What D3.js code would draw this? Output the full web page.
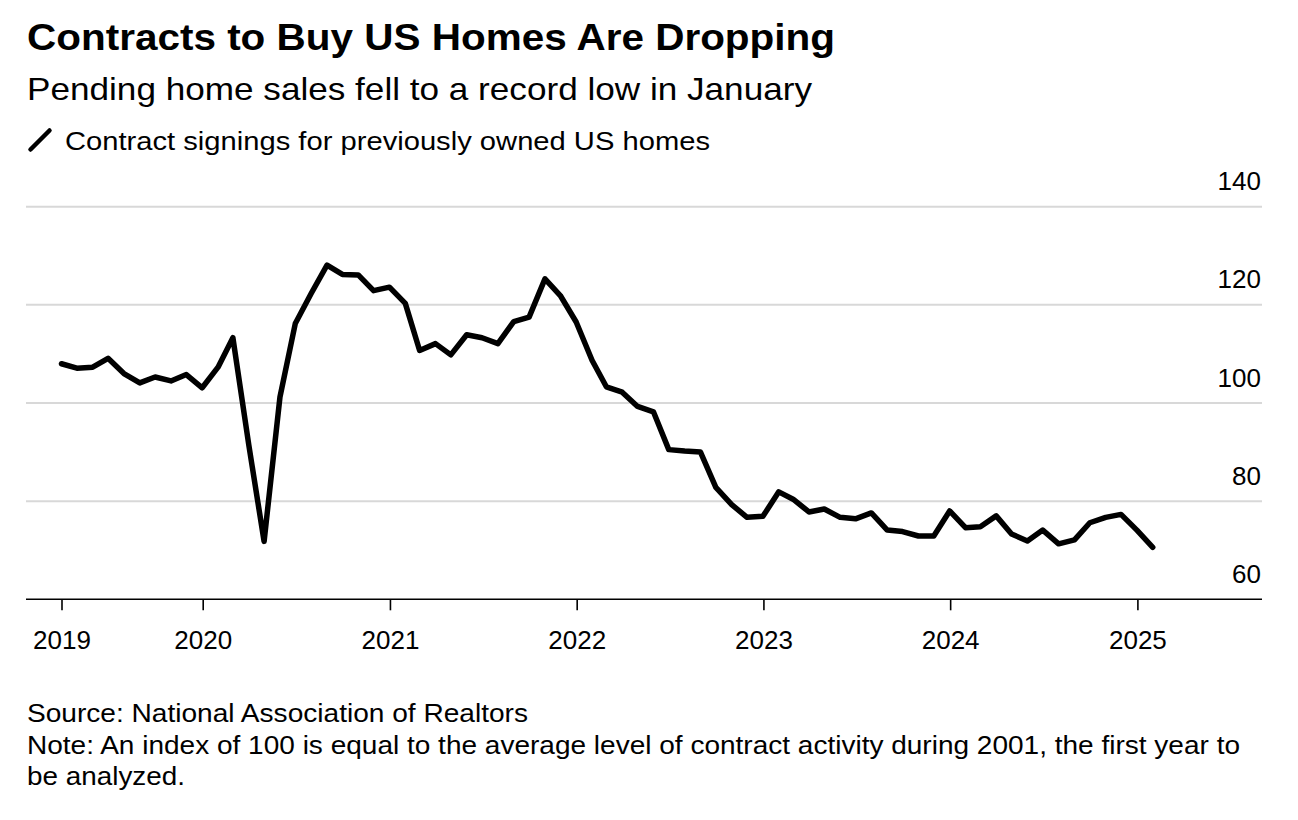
<!DOCTYPE html>
<html>
<head>
<meta charset="utf-8">
<script src="https://cdn.jsdelivr.net/npm/d3@7"></script>
<style>
  html, body { margin: 0; padding: 0; background: #fff; }
  svg { display: block; }
  text { font-family: "Liberation Sans", Arial, Helvetica, sans-serif; fill: #000; }
</style>
</head>
<body>
<svg id="chart" width="1298" height="820"></svg>
<script>
// ---------------- DATA ----------------
const titleText = "Contracts to Buy US Homes Are Dropping";
const subtitleText = "Pending home sales fell to a record low in January";
const legendText = "Contract signings for previously owned US homes";
const sourceText = "Source: National Association of Realtors";
const noteLines = [
  "Note: An index of 100 is equal to the average level of contract activity during 2001, the first year to",
  "be analyzed."
];

// Pending home sales index, monthly (first value = March 2019)
const startYear = 2019;
const startMonth = 3; // March
const idx2019 = [108.0, 107.1, 107.3, 109.1, 106.0, 104.1, 105.3, 104.5, 105.8, 103.1];
const idx2020 = [107.3, 113.3, 91.5, 71.8, 101.2, 116.2, 122.3, 128.1, 126.2, 126.1, 122.9, 123.6];
const idx2021 = [120.3, 110.7, 112.1, 109.8, 113.9, 113.3, 112.1, 116.6, 117.5, 125.3, 121.9, 116.5];
const idx2022 = [108.7, 103.3, 102.2, 99.3, 98.2, 90.5, 90.2, 90.0, 82.8, 79.3, 76.7, 76.9];
const idx2023 = [81.9, 80.4, 77.8, 78.4, 76.7, 76.4, 77.6, 74.1, 73.8, 72.9, 72.9, 78.0];
const idx2024 = [74.6, 74.8, 77.0, 73.3, 71.9, 74.1, 71.3, 72.1, 75.6, 76.7, 77.3, 74.1];
const idx2025 = [70.6];

const yTicks = [60, 80, 100, 120, 140];
const xTickYears = [2019, 2020, 2021, 2022, 2023, 2024, 2025];

// ---------------- BUILD ----------------
const values = [].concat(idx2019, idx2020, idx2021, idx2022, idx2023, idx2024, idx2025);
// each observation placed at the end of its month
const data = values.map((v, i) => ({
  date: new Date(startYear, startMonth - 1 + i + 1, 0),
  value: v
}));

const svg = d3.select("#chart");
svg.append("rect").attr("width", 1298).attr("height", 820).attr("fill", "#fff");

const plotLeft = 26, plotRight = 1262;
const x = d3.scaleTime()
  .domain([new Date(2020, 0, 1), new Date(2025, 0, 1)])
  .range([202.7, 1137.4]);
const y = d3.scaleLinear().domain([60, 140]).range([599.3, 206.7]);

// Titles
function fitText(sel, target) {
  const w = sel.node().getComputedTextLength();
  if (w > 0) sel.attr("textLength", target).attr("lengthAdjust", "spacingAndGlyphs");
  return sel;
}
fitText(svg.append("text").attr("x", 27).attr("y", 49.5)
  .style("font-size", "36px").style("font-weight", "bold").text(titleText), 808);
fitText(svg.append("text").attr("x", 27).attr("y", 99.5)
  .style("font-size", "32px").text(subtitleText), 785);

// Legend
svg.append("line").attr("x1", 30.5).attr("y1", 149.5).attr("x2", 49.5).attr("y2", 130.5)
  .attr("stroke", "#000").attr("stroke-width", 4.5).attr("stroke-linecap", "round");
fitText(svg.append("text").attr("x", 65).attr("y", 149.5)
  .style("font-size", "26px").text(legendText), 645);

// Gridlines + y labels
const grid = svg.append("g");
grid.selectAll("line.grid").data(yTicks.filter(d => d !== 60)).join("line")
  .attr("class", "grid")
  .attr("x1", plotLeft).attr("x2", plotRight)
  .attr("y1", d => y(d)).attr("y2", d => y(d))
  .attr("stroke", "#d8d8d8").attr("stroke-width", 2);
grid.selectAll("text.ylab").data(yTicks).join("text")
  .attr("class", "ylab")
  .attr("x", 1261).attr("y", d => y(d) - 16.5)
  .attr("text-anchor", "end")
  .style("font-size", "26px")
  .text(d => d);

// X axis
const tickDates = xTickYears.map(yr => yr === startYear ? data[0].date : new Date(yr, 0, 1));
const xAxis = d3.axisBottom(x)
  .tickValues(tickDates)
  .tickFormat(d3.timeFormat("%Y"))
  .tickSize(11)
  .tickSizeOuter(0)
  .tickPadding(20);
const gx = svg.append("g").attr("transform", "translate(0,599.3)").call(xAxis);
gx.select(".domain").remove();
gx.append("line").attr("x1", plotLeft).attr("x2", plotRight).attr("y1", 0).attr("y2", 0)
  .attr("stroke", "#000").attr("stroke-width", 1.6);
gx.selectAll(".tick line").attr("stroke", "#000").attr("stroke-width", 1.6);
gx.selectAll(".tick text")
  .style("font-size", "26px")
  .style("font-family", "\"Liberation Sans\", Arial, Helvetica, sans-serif")
  .attr("fill", "#000")
  .attr("dy", null)
  .attr("y", 50);

// Line
const line = d3.line().x(d => x(d.date)).y(d => y(d.value));
svg.append("path").datum(data)
  .attr("d", line)
  .attr("fill", "none")
  .attr("stroke", "#000")
  .attr("stroke-width", 5.5)
  .attr("stroke-linejoin", "round")
  .attr("stroke-linecap", "round");

// Footer
fitText(svg.append("text").attr("x", 27).attr("y", 722.3)
  .style("font-size", "26px").text(sourceText), 501);
const noteSel = svg.selectAll("text.note").data(noteLines).join("text")
  .attr("class", "note")
  .attr("x", 27).attr("y", (d, i) => 754 + i * 31)
  .style("font-size", "26px")
  .text(d => d);
fitText(d3.select(noteSel.nodes()[0]), 1213);
fitText(d3.select(noteSel.nodes()[1]), 158);
</script>
</body>
</html>
